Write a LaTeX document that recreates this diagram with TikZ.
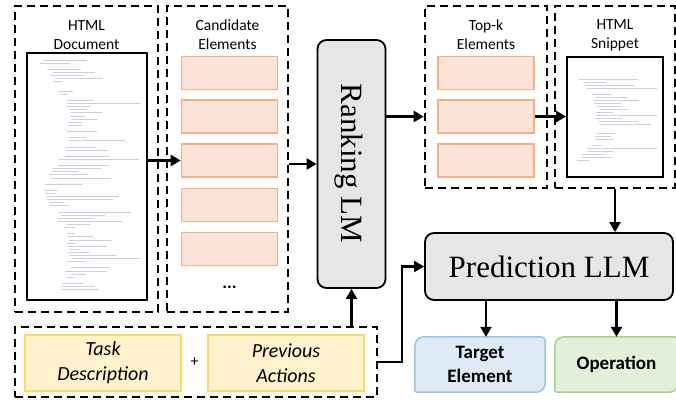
\documentclass[tikz,border=0pt]{standalone}
\usepackage{fontspec}
\setmainfont{Liberation Serif}
\newfontfamily\calib{Carlito}
\usetikzlibrary{arrows.meta,calc}
\definecolor{orfill}{HTML}{FBE4D7}
\definecolor{ordraw}{HTML}{F4B183}
\definecolor{yefill}{HTML}{FFF2CC}
\definecolor{yedraw}{HTML}{FFD966}
\definecolor{blfill}{HTML}{DEEBF7}
\definecolor{bldraw}{HTML}{9DC3E6}
\definecolor{grfill}{HTML}{E2F0D9}
\definecolor{grdraw}{HTML}{A9D18E}
\definecolor{llmfill}{HTML}{E6E6E6}
\definecolor{codecol}{HTML}{CDD0DC}
\begin{document}
\begin{tikzpicture}[x=1pt,y=-1pt,
 dbox/.style={draw, line width=2.6pt, dash pattern=on 8pt off 5pt, inner sep=0pt},
 docrect/.style={draw, line width=1.8pt, fill=white, inner sep=0pt},
 orect/.style={draw=ordraw, fill=orfill, line width=1.6pt, minimum width=96pt, minimum height=33pt, inner sep=0pt},
 yrect/.style={draw=yedraw, fill=yefill, line width=1.6pt, minimum width=156pt, minimum height=56pt, inner sep=0pt, align=center, font=\calib\itshape\fontsize{20}{25}\selectfont},
 llm/.style={draw, line width=1.8pt, fill=llmfill, rounded corners=9pt, inner sep=0pt, font=\fontsize{31}{31}\selectfont},
 lbl/.style={align=center, font=\calib\fontsize{15.5}{19}\selectfont, inner sep=0pt},
 outtxt/.style={align=center, font=\calib\bfseries\fontsize{19}{24}\selectfont, inner sep=0pt},
 arr/.style={line width=2.2pt, -{Triangle[length=10pt,width=11pt]}},
 codeline/.style={codecol, line width=0.45pt},
]
\useasboundingbox (0,0) rectangle (676,400);

% ---- HTML Document ----
\node[dbox, minimum width=143pt, minimum height=306pt] (docbox) at (86.5,159) {};
\node[lbl] (doclbl) at (86.5,35) {HTML\\Document};
\node[docrect, minimum width=120pt, minimum height=247pt] (doc) at (87,176.5) {};
\pgfmathsetseed{11}
\foreach \i in {0,...,74} {
  \pgfmathsetmacro\yy{60+\i*3.1}
  \pgfmathsetmacro\ind{6+28*abs(sin(\i*4.3))+rnd*8}
  \pgfmathsetmacro\lenraw{6+rnd*40+(rnd>0.75)*35}
  \pgfmathsetmacro\len{(rnd>0.2)*min(\lenraw,108-\ind)}
  \draw[codeline] (32+\ind,\yy) -- ++(\len,0);
}

% ---- Candidate Elements ----
\node[dbox, minimum width=121pt, minimum height=306pt] (candbox) at (227.5,159) {};
\node[lbl] (candlbl) at (227.5,35) {Candidate\\Elements};
\node[orect] (c1) at (229.5,73) {};
\node[orect] (c2) at (229.5,116.5) {};
\node[orect] (c3) at (229.5,160.5) {};
\node[orect] (c4) at (229.5,205) {};
\node[orect] (c5) at (229.5,249) {};
\node[font=\calib\bfseries\fontsize{18}{18}\selectfont, inner sep=0pt] (dots) at (229.5,287) {...};

% ---- Ranking LM ----
\node[llm, minimum width=68pt, minimum height=248pt] (rank) at (351.5,164) {};
\node[rotate=-90, anchor=base, font=\fontsize{31}{31}\selectfont, inner sep=0pt] (ranktxt) at (341,163.5) {Ranking LM};

% ---- Top-k Elements ----
\node[dbox, minimum width=122pt, minimum height=182pt] (topbox) at (486,97) {};
\node[lbl] (toplbl) at (486,35) {Top-k\\Elements};
\node[orect] (t1) at (486,73) {};
\node[orect] (t2) at (486,116.5) {};
\node[orect] (t3) at (486,160.5) {};

% ---- HTML Snippet ----
\node[dbox, minimum width=120pt, minimum height=182pt] (snipbox) at (615,97) {};
\node[lbl] (sniplbl) at (615,35) {HTML\\Snippet};
\node[docrect, minimum width=96pt, minimum height=120pt] (snip) at (615,117) {};
\pgfmathsetseed{5}
\foreach \i in {0,...,29} {
  \pgfmathsetmacro\yy{73+\i*3.0}
  \pgfmathsetmacro\ind{3+22*abs(sin(\i*6))+rnd*6}
  \pgfmathsetmacro\lenraw{8+rnd*35+(rnd>0.7)*30}
  \pgfmathsetmacro\len{(rnd>0.15)*min(\lenraw,86-\ind)}
  \draw[codeline] (571+\ind,\yy) -- ++(\len,0);
}

% ---- Prediction LLM ----
\node[llm, minimum width=248pt, minimum height=67pt] (pred) at (549,266.5) {Prediction LLM};

% ---- Context ----
\node[dbox, minimum width=362pt, minimum height=70pt] (ctxbox) at (196,362) {};
\node[yrect] (task) at (103,363) {Task\\Description};
\node[yrect] (prev) at (286,363) {Previous\\Actions};
\node[font=\calib\fontsize{16}{16}\selectfont, inner sep=0pt] (plus) at (194.5,362) {+};

% ---- Outputs ----
\node[minimum width=130pt, minimum height=55pt, inner sep=0pt] (tgt) at (480,364.5) {};
\path[draw=bldraw, fill=blfill, line width=1.5pt]
  (tgt.south west) [rounded corners=9pt] -- (tgt.north west) [rounded corners=4pt] -- (tgt.north east) [rounded corners=9pt] -- (tgt.south east) [rounded corners=2pt] -- cycle;
\node[outtxt] (tgttxt) at (tgt) {Target\\Element};
\node[minimum width=123pt, minimum height=55pt, inner sep=0pt] (op) at (616.5,364.5) {};
\path[draw=grdraw, fill=grfill, line width=1.5pt]
  (op.south west) [rounded corners=9pt] -- (op.north west) [rounded corners=4pt] -- (op.north east) [rounded corners=9pt] -- (op.south east) [rounded corners=2pt] -- cycle;
\node[outtxt] (optxt) at (op) {Operation};

% ---- Connectors ----
\draw[arr] (doc.east |- c3) -- (c3.west);
\draw[arr] (candbox.east |- rank) -- (rank.west);
\draw[arr] (rank.east |- t2) -- (topbox.west |- t2);
\draw[arr] (t2.east) -- (snip.west |- t2);
\draw[arr] (snipbox.south) -- (snipbox.south |- pred.north);
\draw[arr] (ctxbox.north -| rank) -- (rank.south);
\draw[arr] (ctxbox.east) -- ++(24,0) |- (pred.west);
\coordinate (tgtin) at ([xshift=6pt]tgt.north);
\draw[arr] (tgtin |- pred.south) -- (tgtin);
\draw[arr] (op.north |- pred.south) -- (op.north);
\end{tikzpicture}
\end{document}
